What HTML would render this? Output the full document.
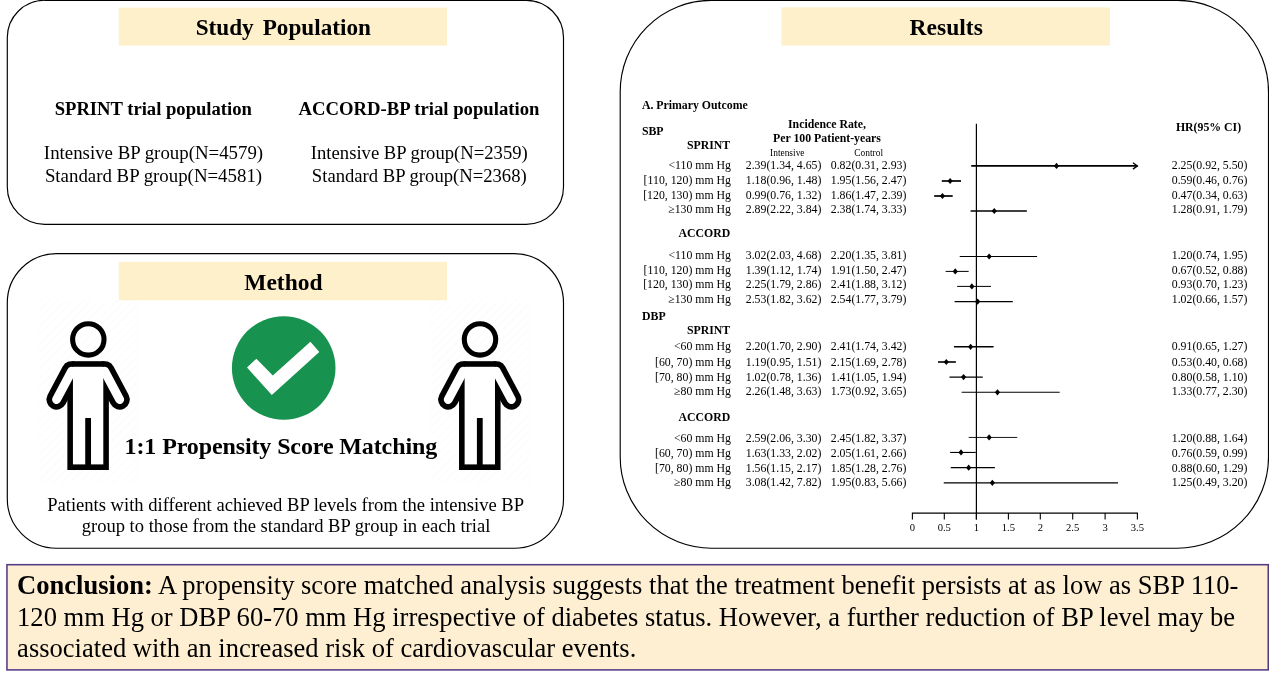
<!DOCTYPE html>
<html lang="en">
<head>
<meta charset="utf-8">
<title>Graphical abstract</title>
<style>
html,body{margin:0;padding:0;background:#fff;}
body{width:1269px;height:680px;overflow:hidden;font-family:"Liberation Serif",serif;}
svg{display:block;font-family:"Liberation Serif",serif;will-change:transform;}
text{white-space:pre;}
</style>
</head>
<body>
<svg width="1269" height="680" viewBox="0 0 1269 680">
<rect x="7.3" y="0.3" width="556.2" height="224.0" rx="37.3" ry="37.3" fill="#fff" stroke="#000" stroke-width="1.15"/>
<rect x="7.3" y="253.6" width="556.2" height="294.6" rx="49.2" ry="49.2" fill="#fff" stroke="#000" stroke-width="1.15"/>
<rect x="620.2" y="0.3" width="648.3" height="547.9000000000001" rx="91.3" ry="91.3" fill="#fff" stroke="#000" stroke-width="1.15"/>
<rect x="118.8" y="7.6" width="328.2" height="38" fill="#FFF0CC"/>
<rect x="118.8" y="261.8" width="328.2" height="38.4" fill="#FFF0CC"/>
<rect x="781.5" y="7.4" width="328.5" height="38.2" fill="#FFF0CC"/>
<text x="283.3" y="35.4" font-size="23.2" font-weight="bold" text-anchor="middle" fill="#000" word-spacing="3.2">Study Population</text>
<text x="283.4" y="289.9" font-size="23.5" font-weight="bold" text-anchor="middle" fill="#000">Method</text>
<text x="946.2" y="35.3" font-size="23.55" font-weight="bold" text-anchor="middle" fill="#000">Results</text>
<text x="153.25" y="114.9" font-size="18.67" font-weight="bold" text-anchor="middle" textLength="197.2" lengthAdjust="spacing" fill="#000">SPRINT trial population</text>
<text x="419" y="114.9" font-size="18.7" font-weight="bold" text-anchor="middle" fill="#000">ACCORD-BP trial population</text>
<text x="153.5" y="159" font-size="18.85" text-anchor="middle" fill="#000">Intensive BP group(N=4579)</text>
<text x="153.5" y="182.2" font-size="18.85" text-anchor="middle" fill="#000">Standard BP group(N=4581)</text>
<text x="419.3" y="159" font-size="18.65" text-anchor="middle" fill="#000">Intensive BP group(N=2359)</text>
<text x="419.3" y="182.2" font-size="18.65" text-anchor="middle" fill="#000">Standard BP group(N=2368)</text>
<text x="280.9" y="453.5" font-size="24" font-weight="bold" text-anchor="middle" textLength="312.6" lengthAdjust="spacing" fill="#000">1:1 Propensity Score Matching</text>
<text x="285.6" y="511" font-size="18.57" text-anchor="middle" fill="#000">Patients with different achieved BP levels from the intensive BP</text>
<text x="286" y="532.2" font-size="18.57" text-anchor="middle" fill="#000">group to those from the standard BP group in each trial</text>
<defs><pattern id="ht" width="6" height="6" patternUnits="userSpaceOnUse" patternTransform="rotate(-45)"><rect x="0" y="0" width="6" height="2" fill="#000" fill-opacity="0.009"/></pattern></defs>
<rect x="38" y="299" width="102" height="185" fill="url(#ht)"/>
<rect x="430" y="299" width="101" height="185" fill="url(#ht)"/>
<circle cx="283.7" cy="368" r="51.8" fill="#17924F"/>
<polygon points="256.4,358.7 272.8,375.4 310.4,341.8 319.3,351.9 271.8,395.1 247,367.5" fill="#fff"/>
<g transform="translate(88.12,0)"><g stroke="#000" stroke-linecap="round" fill="#000"><line x1="-16.54" y1="371.28" x2="-31.55" y2="399.5" stroke-width="20.2"/><line x1="16.54" y1="371.28" x2="31.55" y2="399.5" stroke-width="20.2"/></g><rect x="-16.54" y="361.18" width="33.08" height="11.099999999999966" fill="#000"/><rect x="-20.76" y="371.28" width="41.52" height="98.72000000000003" fill="#000"/><g stroke="#fff" stroke-linecap="round" fill="#fff"><line x1="-16.54" y1="371.28" x2="-31.55" y2="399.5" stroke-width="9.0"/><line x1="16.54" y1="371.28" x2="31.55" y2="399.5" stroke-width="9.0"/></g><rect x="-15.18" y="366.78" width="30.36" height="97.62" fill="#fff"/><rect x="-2.9" y="418" width="5.8" height="47.39999999999998" fill="#000"/><circle cx="0.2" cy="339.4" r="15.7" fill="none" stroke="#000" stroke-width="5.1"/></g>
<g transform="translate(479.8,0)"><g stroke="#000" stroke-linecap="round" fill="#000"><line x1="-16.54" y1="371.28" x2="-31.55" y2="399.5" stroke-width="20.2"/><line x1="16.54" y1="371.28" x2="31.55" y2="399.5" stroke-width="20.2"/></g><rect x="-16.54" y="361.18" width="33.08" height="11.099999999999966" fill="#000"/><rect x="-20.76" y="371.28" width="41.52" height="98.72000000000003" fill="#000"/><g stroke="#fff" stroke-linecap="round" fill="#fff"><line x1="-16.54" y1="371.28" x2="-31.55" y2="399.5" stroke-width="9.0"/><line x1="16.54" y1="371.28" x2="31.55" y2="399.5" stroke-width="9.0"/></g><rect x="-15.18" y="366.78" width="30.36" height="97.62" fill="#fff"/><rect x="-2.9" y="418" width="5.8" height="47.39999999999998" fill="#000"/><circle cx="0.2" cy="339.4" r="15.7" fill="none" stroke="#000" stroke-width="5.1"/></g>
<text x="641.9" y="108.9" font-size="11.8" font-weight="bold" fill="#000">A. Primary Outcome</text>
<text x="641.9" y="134.6" font-size="11.8" font-weight="bold" fill="#000">SBP</text>
<text x="827" y="127.8" font-size="11.8" font-weight="bold" text-anchor="middle" fill="#000">Incidence Rate,</text>
<text x="827" y="141.7" font-size="11.8" font-weight="bold" text-anchor="middle" fill="#000">Per 100 Patient-years</text>
<text x="787.3" y="156.4" font-size="9.4" text-anchor="middle" fill="#000">Intensive</text>
<text x="868.7" y="156.4" font-size="9.4" text-anchor="middle" fill="#000">Control</text>
<text x="1208.5" y="130.7" font-size="11.8" font-weight="bold" text-anchor="middle" fill="#000">HR(95% CI)</text>
<text x="642.1" y="319.7" font-size="11.8" font-weight="bold" fill="#000">DBP</text>
<text x="730.2" y="148.5" font-size="11.8" font-weight="bold" text-anchor="end" fill="#000">SPRINT</text>
<text x="731" y="168.7" font-size="11.8" text-anchor="end" fill="#000">&lt;110 mm Hg</text>
<text x="783.6" y="168.7" font-size="11.8" text-anchor="middle" fill="#000">2.39(1.34, 4.65)</text>
<text x="868.6" y="168.7" font-size="11.8" text-anchor="middle" fill="#000">0.82(0.31, 2.93)</text>
<text x="1209.6" y="168.7" font-size="11.8" text-anchor="middle" fill="#000">2.25(0.92, 5.50)</text>
<line x1="971.23" y1="165.9" x2="1137.42" y2="165.9" stroke="#000" stroke-width="1.7"/>
<polyline points="1132.92,162.70000000000002 1137.42,165.9 1132.92,169.1" fill="none" stroke="#000" stroke-width="1.3"/>
<polygon points="1053.89,165.9 1056.49,162.8 1059.09,165.9 1056.49,169.0" fill="#000"/>
<text x="731" y="184.1" font-size="11.8" text-anchor="end" fill="#000">[110, 120) mm Hg</text>
<text x="783.6" y="184.1" font-size="11.8" text-anchor="middle" fill="#000">1.18(0.96, 1.48)</text>
<text x="868.6" y="184.1" font-size="11.8" text-anchor="middle" fill="#000">1.95(1.56, 2.47)</text>
<text x="1209.6" y="184.1" font-size="11.8" text-anchor="middle" fill="#000">0.59(0.46, 0.76)</text>
<line x1="941.82" y1="181.0" x2="961.0" y2="181.0" stroke="#000" stroke-width="1.7"/>
<polygon points="947.53,181.0 950.13,177.9 952.73,181.0 950.13,184.1" fill="#000"/>
<text x="731" y="198.8" font-size="11.8" text-anchor="end" fill="#000">[120, 130) mm Hg</text>
<text x="783.6" y="198.8" font-size="11.8" text-anchor="middle" fill="#000">0.99(0.76, 1.32)</text>
<text x="868.6" y="198.8" font-size="11.8" text-anchor="middle" fill="#000">1.86(1.47, 2.39)</text>
<text x="1209.6" y="198.8" font-size="11.8" text-anchor="middle" fill="#000">0.47(0.34, 0.63)</text>
<line x1="934.14" y1="196.0" x2="952.69" y2="196.0" stroke="#000" stroke-width="1.7"/>
<polygon points="939.86,196.0 942.46,192.9 945.0600000000001,196.0 942.46,199.1" fill="#000"/>
<text x="731" y="212.6" font-size="11.8" text-anchor="end" fill="#000">≥130 mm Hg</text>
<text x="783.6" y="212.6" font-size="11.8" text-anchor="middle" fill="#000">2.89(2.22, 3.84)</text>
<text x="868.6" y="212.6" font-size="11.8" text-anchor="middle" fill="#000">2.38(1.74, 3.33)</text>
<text x="1209.6" y="212.6" font-size="11.8" text-anchor="middle" fill="#000">1.28(0.91, 1.79)</text>
<line x1="970.59" y1="211.0" x2="1026.87" y2="211.0" stroke="#000" stroke-width="1.6"/>
<polygon points="991.66,211.0 994.26,207.9 996.86,211.0 994.26,214.1" fill="#000"/>
<text x="730.2" y="236.7" font-size="11.8" font-weight="bold" text-anchor="end" fill="#000">ACCORD</text>
<text x="731" y="258.9" font-size="11.8" text-anchor="end" fill="#000">&lt;110 mm Hg</text>
<text x="783.6" y="258.9" font-size="11.8" text-anchor="middle" fill="#000">3.02(2.03, 4.68)</text>
<text x="868.6" y="258.9" font-size="11.8" text-anchor="middle" fill="#000">2.20(1.35, 3.81)</text>
<text x="1209.6" y="258.9" font-size="11.8" text-anchor="middle" fill="#000">1.20(0.74, 1.95)</text>
<line x1="959.72" y1="256.5" x2="1037.1" y2="256.5" stroke="#000" stroke-width="1.0"/>
<polygon points="986.54,256.5 989.14,253.4 991.74,256.5 989.14,259.6" fill="#000"/>
<text x="731" y="274.2" font-size="11.8" text-anchor="end" fill="#000">[110, 120) mm Hg</text>
<text x="783.6" y="274.2" font-size="11.8" text-anchor="middle" fill="#000">1.39(1.12, 1.74)</text>
<text x="868.6" y="274.2" font-size="11.8" text-anchor="middle" fill="#000">1.91(1.50, 2.47)</text>
<text x="1209.6" y="274.2" font-size="11.8" text-anchor="middle" fill="#000">0.67(0.52, 0.88)</text>
<line x1="945.65" y1="271.4" x2="968.68" y2="271.4" stroke="#000" stroke-width="1.0"/>
<polygon points="952.65,271.4 955.25,268.29999999999995 957.85,271.4 955.25,274.5" fill="#000"/>
<text x="731" y="288.4" font-size="11.8" text-anchor="end" fill="#000">[120, 130) mm Hg</text>
<text x="783.6" y="288.4" font-size="11.8" text-anchor="middle" fill="#000">2.25(1.79, 2.86)</text>
<text x="868.6" y="288.4" font-size="11.8" text-anchor="middle" fill="#000">2.41(1.88, 3.12)</text>
<text x="1209.6" y="288.4" font-size="11.8" text-anchor="middle" fill="#000">0.93(0.70, 1.23)</text>
<line x1="957.16" y1="286.4" x2="991.06" y2="286.4" stroke="#000" stroke-width="1.0"/>
<polygon points="969.27,286.4 971.87,283.29999999999995 974.47,286.4 971.87,289.5" fill="#000"/>
<text x="731" y="302.7" font-size="11.8" text-anchor="end" fill="#000">≥130 mm Hg</text>
<text x="783.6" y="302.7" font-size="11.8" text-anchor="middle" fill="#000">2.53(1.82, 3.62)</text>
<text x="868.6" y="302.7" font-size="11.8" text-anchor="middle" fill="#000">2.54(1.77, 3.79)</text>
<text x="1209.6" y="302.7" font-size="11.8" text-anchor="middle" fill="#000">1.02(0.66, 1.57)</text>
<line x1="954.61" y1="301.6" x2="1012.8" y2="301.6" stroke="#000" stroke-width="1.1"/>
<polygon points="975.03,301.6 977.63,298.5 980.23,301.6 977.63,304.70000000000005" fill="#000"/>
<text x="730.2" y="334.0" font-size="11.8" font-weight="bold" text-anchor="end" fill="#000">SPRINT</text>
<text x="731" y="350.4" font-size="11.8" text-anchor="end" fill="#000">&lt;60 mm Hg</text>
<text x="783.6" y="350.4" font-size="11.8" text-anchor="middle" fill="#000">2.20(1.70, 2.90)</text>
<text x="868.6" y="350.4" font-size="11.8" text-anchor="middle" fill="#000">2.41(1.74, 3.42)</text>
<text x="1209.6" y="350.4" font-size="11.8" text-anchor="middle" fill="#000">0.91(0.65, 1.27)</text>
<line x1="953.97" y1="346.8" x2="993.62" y2="346.8" stroke="#000" stroke-width="1.6"/>
<polygon points="967.99,346.8 970.59,343.7 973.19,346.8 970.59,349.90000000000003" fill="#000"/>
<text x="731" y="366.4" font-size="11.8" text-anchor="end" fill="#000">[60, 70) mm Hg</text>
<text x="783.6" y="366.4" font-size="11.8" text-anchor="middle" fill="#000">1.19(0.95, 1.51)</text>
<text x="868.6" y="366.4" font-size="11.8" text-anchor="middle" fill="#000">2.15(1.69, 2.78)</text>
<text x="1209.6" y="366.4" font-size="11.8" text-anchor="middle" fill="#000">0.53(0.40, 0.68)</text>
<line x1="937.98" y1="362.0" x2="955.89" y2="362.0" stroke="#000" stroke-width="1.6"/>
<polygon points="943.6899999999999,362.0 946.29,358.9 948.89,362.0 946.29,365.1" fill="#000"/>
<text x="731" y="381.1" font-size="11.8" text-anchor="end" fill="#000">[70, 80) mm Hg</text>
<text x="783.6" y="381.1" font-size="11.8" text-anchor="middle" fill="#000">1.02(0.78, 1.36)</text>
<text x="868.6" y="381.1" font-size="11.8" text-anchor="middle" fill="#000">1.41(1.05, 1.94)</text>
<text x="1209.6" y="381.1" font-size="11.8" text-anchor="middle" fill="#000">0.80(0.58, 1.10)</text>
<line x1="949.49" y1="377.1" x2="982.75" y2="377.1" stroke="#000" stroke-width="1.3"/>
<polygon points="960.9599999999999,377.1 963.56,374.0 966.16,377.1 963.56,380.20000000000005" fill="#000"/>
<text x="731" y="395.2" font-size="11.8" text-anchor="end" fill="#000">≥80 mm Hg</text>
<text x="783.6" y="395.2" font-size="11.8" text-anchor="middle" fill="#000">2.26(1.48, 3.63)</text>
<text x="868.6" y="395.2" font-size="11.8" text-anchor="middle" fill="#000">1.73(0.92, 3.65)</text>
<text x="1209.6" y="395.2" font-size="11.8" text-anchor="middle" fill="#000">1.33(0.77, 2.30)</text>
<line x1="961.64" y1="392.3" x2="1059.72" y2="392.3" stroke="#000" stroke-width="1.1"/>
<polygon points="994.85,392.3 997.45,389.2 1000.0500000000001,392.3 997.45,395.40000000000003" fill="#000"/>
<text x="730.2" y="420.9" font-size="11.8" font-weight="bold" text-anchor="end" fill="#000">ACCORD</text>
<text x="731" y="442.2" font-size="11.8" text-anchor="end" fill="#000">&lt;60 mm Hg</text>
<text x="783.6" y="442.2" font-size="11.8" text-anchor="middle" fill="#000">2.59(2.06, 3.30)</text>
<text x="868.6" y="442.2" font-size="11.8" text-anchor="middle" fill="#000">2.45(1.82, 3.37)</text>
<text x="1209.6" y="442.2" font-size="11.8" text-anchor="middle" fill="#000">1.20(0.88, 1.64)</text>
<line x1="968.68" y1="437.45" x2="1017.28" y2="437.45" stroke="#000" stroke-width="0.9"/>
<polygon points="986.54,437.45 989.14,434.34999999999997 991.74,437.45 989.14,440.55" fill="#000"/>
<text x="731" y="457.3" font-size="11.8" text-anchor="end" fill="#000">[60, 70) mm Hg</text>
<text x="783.6" y="457.3" font-size="11.8" text-anchor="middle" fill="#000">1.63(1.33, 2.02)</text>
<text x="868.6" y="457.3" font-size="11.8" text-anchor="middle" fill="#000">2.05(1.61, 2.66)</text>
<text x="1209.6" y="457.3" font-size="11.8" text-anchor="middle" fill="#000">0.76(0.59, 0.99)</text>
<line x1="950.13" y1="452.45" x2="975.71" y2="452.45" stroke="#000" stroke-width="1.1"/>
<polygon points="958.4,452.45 961.0,449.34999999999997 963.6,452.45 961.0,455.55" fill="#000"/>
<text x="731" y="471.7" font-size="11.8" text-anchor="end" fill="#000">[70, 80) mm Hg</text>
<text x="783.6" y="471.7" font-size="11.8" text-anchor="middle" fill="#000">1.56(1.15, 2.17)</text>
<text x="868.6" y="471.7" font-size="11.8" text-anchor="middle" fill="#000">1.85(1.28, 2.76)</text>
<text x="1209.6" y="471.7" font-size="11.8" text-anchor="middle" fill="#000">0.88(0.60, 1.29)</text>
<line x1="950.77" y1="467.7" x2="994.9" y2="467.7" stroke="#000" stroke-width="1.2"/>
<polygon points="966.0799999999999,467.7 968.68,464.59999999999997 971.28,467.7 968.68,470.8" fill="#000"/>
<text x="731" y="486.3" font-size="11.8" text-anchor="end" fill="#000">≥80 mm Hg</text>
<text x="783.6" y="486.3" font-size="11.8" text-anchor="middle" fill="#000">3.08(1.42, 7.82)</text>
<text x="868.6" y="486.3" font-size="11.8" text-anchor="middle" fill="#000">1.95(0.83, 5.66)</text>
<text x="1209.6" y="486.3" font-size="11.8" text-anchor="middle" fill="#000">1.25(0.49, 3.20)</text>
<line x1="943.74" y1="482.8" x2="1118.0" y2="482.8" stroke="#000" stroke-width="1.3"/>
<polygon points="989.74,482.8 992.34,479.7 994.94,482.8 992.34,485.90000000000003" fill="#000"/>
<line x1="976.4" y1="123.8" x2="976.4" y2="519.6" stroke="#000" stroke-width="1.2"/>
<line x1="911.9" y1="513.1" x2="1137.9" y2="513.1" stroke="#000" stroke-width="1.25"/>
<line x1="912.4" y1="513.1" x2="912.4" y2="519.6" stroke="#000" stroke-width="1.1"/>
<text x="912.4" y="530.7" font-size="10.6" text-anchor="middle" fill="#000">0</text>
<line x1="944.3" y1="513.1" x2="944.3" y2="519.6" stroke="#000" stroke-width="1.1"/>
<text x="944.3" y="530.7" font-size="10.6" text-anchor="middle" fill="#000">0.5</text>
<line x1="976.4" y1="513.1" x2="976.4" y2="519.6" stroke="#000" stroke-width="1.1"/>
<text x="976.4" y="530.7" font-size="10.6" text-anchor="middle" fill="#000">1</text>
<line x1="1008.4" y1="513.1" x2="1008.4" y2="519.6" stroke="#000" stroke-width="1.1"/>
<text x="1008.4" y="530.7" font-size="10.6" text-anchor="middle" fill="#000">1.5</text>
<line x1="1040.3" y1="513.1" x2="1040.3" y2="519.6" stroke="#000" stroke-width="1.1"/>
<text x="1040.3" y="530.7" font-size="10.6" text-anchor="middle" fill="#000">2</text>
<line x1="1072.7" y1="513.1" x2="1072.7" y2="519.6" stroke="#000" stroke-width="1.1"/>
<text x="1072.7" y="530.7" font-size="10.6" text-anchor="middle" fill="#000">2.5</text>
<line x1="1105.1" y1="513.1" x2="1105.1" y2="519.6" stroke="#000" stroke-width="1.1"/>
<text x="1105.1" y="530.7" font-size="10.6" text-anchor="middle" fill="#000">3</text>
<line x1="1137.4" y1="513.1" x2="1137.4" y2="519.6" stroke="#000" stroke-width="1.1"/>
<text x="1137.4" y="530.7" font-size="10.6" text-anchor="middle" fill="#000">3.5</text>
<rect x="6.95" y="564.7" width="1261.3" height="105.2" fill="#FFEFD2" stroke="#523B85" stroke-width="1.55"/>
<text x="17.1" y="594" font-size="26.55"><tspan font-weight="bold">Conclusion:</tspan> A propensity score matched analysis suggests that the treatment benefit persists at as low as SBP 110-</text>
<text x="17.1" y="626" font-size="26.55" fill="#000">120 mm Hg or DBP 60-70 mm Hg irrespective of diabetes status. However, a further reduction of BP level may be</text>
<text x="17.1" y="657.3" font-size="26.55" fill="#000">associated with an increased risk of cardiovascular events.</text>
</svg>
</body>
</html>
